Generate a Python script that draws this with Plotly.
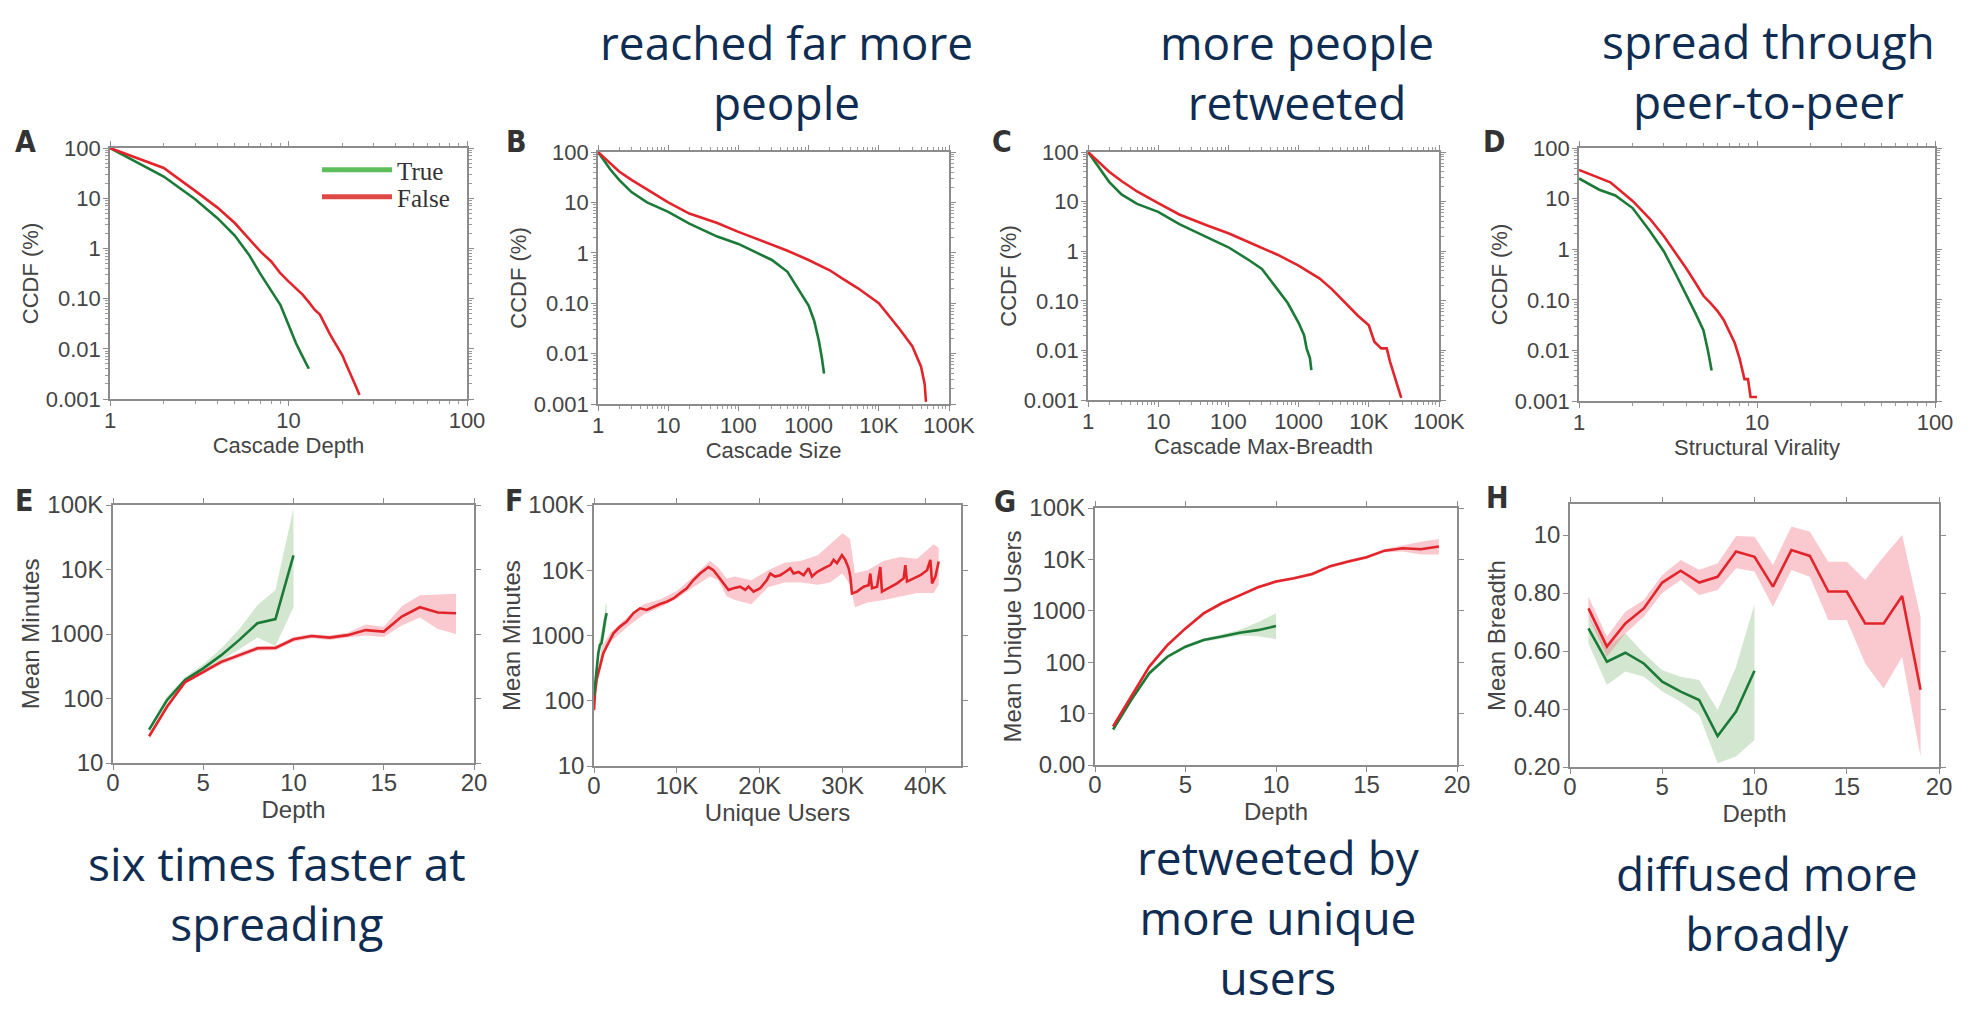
import plotly.graph_objects as go
from plotly.subplots import make_subplots

# the page body adds an 8px margin, so the figure starts 8px in from the window edge
OFF = 8
W, H = 1971 - OFF, 1010 - OFF
GREEN = "#1c7a38"
RED = "#e2252b"
GREEN_BAND = "rgba(130,185,120,0.35)"
RED_BAND = "rgba(240,120,135,0.4)"
NAVY = "#0f2d52"
GREY = "#444444"


def px_x(px):
    return (px - OFF) / W


def px_y(py):
    return 1 - (py - OFF) / H


# ---- A: CCDF vs cascade depth
a_true_x = [1, 2, 3, 4, 5, 6, 7, 8, 9, 10, 11, 12, 13]
a_true_y = [100, 27, 9.5, 4, 1.8, 0.75, 0.3, 0.14, 0.075, 0.03, 0.013, 0.007, 0.004]
a_false_x = [1, 2, 3, 4, 5, 6, 7, 8, 9, 10, 11, 12, 13, 14, 15, 16, 17, 18, 19, 20, 21, 22, 23, 24, 25]
a_false_y = [100, 40, 14, 6.5, 3.2, 1.6, 0.85, 0.55, 0.32, 0.22, 0.16, 0.12, 0.085, 0.06, 0.048,
             0.03, 0.02, 0.014, 0.01, 0.0075, 0.005, 0.0035, 0.0024, 0.0017, 0.0012]

# ---- B: CCDF vs cascade size
b_true_x = [1, 1.5, 2, 3, 5, 7, 10, 20, 30, 50, 100, 200, 300, 500, 700, 1000, 1200, 1400, 1550, 1660]
b_true_y = [100, 45, 28, 16, 10, 8, 6.5, 3.8, 2.9, 2.1, 1.5, 0.95, 0.72, 0.42, 0.2, 0.09, 0.045, 0.018, 0.008, 0.004]
b_false_x = [1, 1.5, 2, 3, 5, 10, 20, 50, 100, 200, 500, 1000, 2000, 3000, 5000, 10000, 15000,
             20000, 30000, 40000, 45000, 47000]
b_false_y = [100, 60, 41, 28, 18, 10, 6, 3.9, 2.6, 1.8, 1.1, 0.72, 0.45, 0.31, 0.2, 0.1, 0.05,
             0.03, 0.014, 0.0055, 0.0025, 0.0011]

# ---- C: CCDF vs cascade max-breadth
c_true_x = [1, 1.5, 2, 3, 5, 10, 20, 50, 100, 200, 300, 500, 700, 1000, 1200, 1300, 1450, 1520]
c_true_y = [100, 45, 25, 14, 9, 6.2, 3.5, 1.9, 1.2, 0.65, 0.44, 0.17, 0.09, 0.036, 0.02, 0.011, 0.007, 0.004]
c_false_x = [1, 1.5, 2, 3, 5, 10, 20, 50, 100, 200, 500, 1000, 2000, 3000, 5000, 7000, 10000,
             12000, 15000, 18000, 20000, 24000, 29000]
c_false_y = [100, 60, 40, 26, 16, 9.3, 5.5, 3.3, 2.3, 1.5, 0.85, 0.51, 0.28, 0.17, 0.08, 0.05,
             0.032, 0.015, 0.011, 0.011, 0.006, 0.0025, 0.0011]

# ---- D: CCDF vs structural virality
d_true_x = [1, 1.3, 1.6, 2.0, 2.5, 3.0, 3.5, 4.0, 4.5, 5.0, 5.3, 5.56]
d_true_y = [25, 15, 11.5, 6.5, 2.3, 0.9, 0.32, 0.13, 0.055, 0.025, 0.01, 0.004]
d_false_x = [1, 1.5, 2, 2.5, 3, 3.5, 4, 4.5, 5, 5.5, 6, 6.5, 7, 7.5, 8, 8.5, 8.9, 9.2, 10]
d_false_y = [37, 21, 9, 4, 1.8, 0.85, 0.42, 0.22, 0.12, 0.085, 0.06, 0.04, 0.023, 0.014, 0.0067,
             0.0027, 0.0027, 0.0012, 0.0012]

# ---- E: mean minutes vs depth
e_true_x = [2, 3, 4, 5, 6, 7, 8, 9, 10]
e_true_y = [33, 95, 195, 293, 470, 810, 1470, 1700, 16600]
e_true_hi = [36, 108, 215, 340, 600, 1200, 2800, 4800, 90000]
e_true_lo = [30, 85, 175, 255, 390, 580, 880, 650, 2600]
e_false_x = [2, 3, 4, 5, 6, 7, 8, 9, 10, 11, 12, 13, 14, 15, 16, 17, 18, 19]
e_false_y = [26, 75, 180, 260, 370, 470, 600, 610, 830, 930, 880, 960, 1150, 1090, 1870, 2600, 2150, 2100]
e_false_hi = [28, 82, 190, 280, 400, 510, 650, 660, 900, 1000, 950, 1050, 1400, 1300, 2700, 4000, 4100, 4200]
e_false_lo = [24, 68, 170, 240, 340, 430, 550, 560, 760, 860, 810, 880, 950, 900, 1350, 1800, 1200, 1000]

# ---- F: mean minutes vs unique users
f_true_x = [0, 120, 320, 520, 720, 900, 1000, 1130, 1330, 1530]
f_true_y = [120, 170, 330, 540, 720, 760, 900, 1200, 1700, 2200]
f_true_band_x = [0, 200, 400, 600, 800, 1000, 1200, 1400, 1530]
f_true_hi = [160, 280, 500, 800, 1000, 1300, 1900, 2900, 3200]
f_true_lo = [100, 160, 280, 450, 600, 700, 950, 1300, 1500]
f_false_x = [0, 120, 320, 730, 1130, 1730, 2340, 3140, 3950, 4750, 5560, 6360, 7170, 7980, 8780,
             9590, 10390, 11200, 12000, 12810, 13820, 14420, 15030, 15630, 16230, 16840, 17640,
             18250, 18650, 19260, 20060, 20870, 21270, 21870, 22480, 23080, 23690, 24090, 24690,
             25300, 25900, 26310, 26910, 27720, 28520, 28920, 29330, 29930, 30330, 30740, 30940,
             31140, 31740, 32550, 33150, 33350, 33560, 34160, 34560, 34760, 35570, 36580, 37380,
             37580, 37780, 38590, 39400, 40200, 40600, 40810, 41210, 41610]
f_false_y = [72, 130, 210, 355, 535, 760, 1080, 1370, 1630, 2190, 2610, 2460, 2750, 3040, 3290,
             3700, 4440, 5290, 7080, 8900, 11200, 10000, 7950, 6300, 5000, 5300, 5600,
             5000, 5600, 4700, 5300, 7100, 8900, 8000, 8400, 9400, 10700, 8900, 9400,
             8400, 10700, 8000, 9400, 10700, 12000, 14400, 12800, 17000, 14400, 10700, 8000,
             4400, 4700, 5600, 5900, 8900, 5300, 5600, 11200, 4700, 5300, 6300, 7500,
             12000, 6700, 7500, 8400, 10000, 14400, 6300, 8000, 13600]
f_false_band_x = [0, 500, 1000, 2000, 4000, 6000, 8000, 10000, 12000, 14000, 15000, 16000, 17000,
                  19000, 21000, 23000, 25000, 27000, 28500, 30000, 30900, 31500, 33000, 35000,
                  37000, 39000, 41000, 41610]
f_false_hi = [100, 330, 700, 1100, 1900, 3000, 3600, 4800, 8000, 14000, 11000, 7500, 8000, 7000,
              10000, 13000, 14000, 17000, 25000, 37000, 30000, 9000, 10000, 14000, 16000, 15000,
              25000, 22000]
f_false_lo = [60, 250, 480, 800, 1350, 2100, 2700, 3700, 5500, 8000, 7000, 4000, 3500, 3000,
              5500, 6500, 6500, 6000, 6500, 9000, 6000, 2700, 3200, 3500, 4000, 4500, 4500, 6000]

# ---- G: mean unique users vs depth
g_true_x = [1, 2, 3, 4, 5, 6, 7, 8, 9, 10]
g_true_y = [4.9, 18.4, 61, 128, 200, 270, 315, 375, 420, 505]
g_true_hi = [5.4, 20, 66, 138, 215, 290, 345, 430, 600, 900]
g_true_lo = [4.4, 16.8, 56, 118, 185, 250, 290, 330, 320, 280]
g_false_x = [1, 2, 3, 4, 5, 6, 7, 8, 9, 10, 11, 12, 13, 14, 15, 16, 17, 18, 19]
g_false_y = [5.6, 21, 82, 215, 455, 890, 1400, 2000, 2870, 3700, 4300, 5200, 7400, 9100, 11000,
             14800, 16500, 15800, 17800]
g_false_hi = [6.2, 23, 90, 235, 490, 950, 1500, 2150, 3050, 3950, 4600, 5600, 7900, 9800, 11800,
              16000, 19000, 22000, 25000]
g_false_lo = [5.0, 19, 75, 195, 420, 830, 1300, 1850, 2700, 3450, 4000, 4800, 6900, 8500, 10200,
              13700, 14200, 12500, 12500]

# ---- H: mean breadth vs depth
h_true_x = [1, 2, 3, 4, 5, 6, 7, 8, 9, 10]
h_true_y = [0.678, 0.563, 0.594, 0.557, 0.494, 0.46, 0.431, 0.307, 0.391, 0.532]
h_true_hi = [0.718, 0.615, 0.661, 0.592, 0.534, 0.511, 0.5, 0.397, 0.546, 0.762]
h_true_lo = [0.626, 0.483, 0.529, 0.511, 0.46, 0.425, 0.379, 0.213, 0.236, 0.293]
h_false_x = [1, 2, 3, 4, 5, 6, 7, 8, 9, 10, 11, 12, 13, 14, 15, 16, 17, 18, 19]
h_false_y = [0.747, 0.615, 0.695, 0.747, 0.836, 0.877, 0.836, 0.856, 0.943, 0.925, 0.822, 0.948,
             0.928, 0.805, 0.805, 0.695, 0.695, 0.79, 0.466]
h_false_hi = [0.787, 0.65, 0.735, 0.776, 0.862, 0.914, 0.88, 0.902, 0.997, 0.994, 0.897, 1.029,
              1.011, 0.908, 0.908, 0.845, 0.925, 1.0, 0.718]
h_false_lo = [0.718, 0.58, 0.66, 0.718, 0.80, 0.845, 0.793, 0.81, 0.885, 0.874, 0.753, 0.879,
              0.856, 0.707, 0.707, 0.557, 0.471, 0.58, 0.236]

fig = make_subplots(rows=2, cols=4)


def line(x, y, color, r, c):
    fig.add_trace(go.Scatter(x=x, y=y, mode="lines", line=dict(color=color, width=2.6),
                             showlegend=False, hoverinfo="skip"), row=r, col=c)


def band(x, hi, lo, color, r, c):
    fig.add_trace(go.Scatter(x=list(x) + list(x)[::-1], y=list(hi) + list(lo)[::-1],
                             mode="lines", line=dict(width=0), fill="toself", fillcolor=color,
                             showlegend=False, hoverinfo="skip"), row=r, col=c)


line(a_true_x, a_true_y, GREEN, 1, 1)
line(a_false_x, a_false_y, RED, 1, 1)
line(b_true_x, b_true_y, GREEN, 1, 2)
line(b_false_x, b_false_y, RED, 1, 2)
line(c_true_x, c_true_y, GREEN, 1, 3)
line(c_false_x, c_false_y, RED, 1, 3)
line(d_true_x, d_true_y, GREEN, 1, 4)
line(d_false_x, d_false_y, RED, 1, 4)

band(e_true_x, e_true_hi, e_true_lo, GREEN_BAND, 2, 1)
band(e_false_x, e_false_hi, e_false_lo, RED_BAND, 2, 1)
line(e_true_x, e_true_y, GREEN, 2, 1)
line(e_false_x, e_false_y, RED, 2, 1)

band(f_false_band_x, f_false_hi, f_false_lo, RED_BAND, 2, 2)
band(f_true_band_x, f_true_hi, f_true_lo, GREEN_BAND, 2, 2)
line(f_false_x, f_false_y, RED, 2, 2)
line(f_true_x, f_true_y, GREEN, 2, 2)

band(g_true_x, g_true_hi, g_true_lo, GREEN_BAND, 2, 3)
band(g_false_x, g_false_hi, g_false_lo, RED_BAND, 2, 3)
line(g_true_x, g_true_y, GREEN, 2, 3)
line(g_false_x, g_false_y, RED, 2, 3)

band(h_true_x, h_true_hi, h_true_lo, GREEN_BAND, 2, 4)
band(h_false_x, h_false_hi, h_false_lo, RED_BAND, 2, 4)
line(h_true_x, h_true_y, GREEN, 2, 4)
line(h_false_x, h_false_y, RED, 2, 4)

# legend entries (panel A), one legend box each so their spacing can be set
fig.add_trace(go.Scatter(x=[None], y=[None], mode="lines", name="True", legend="legend",
                         line=dict(color="#5cbf5c", width=5)), row=1, col=1)
fig.add_trace(go.Scatter(x=[None], y=[None], mode="lines", name="False", legend="legend2",
                         line=dict(color="#e04848", width=5)), row=1, col=1)

# panel frames in window pixels: left, right, top, bottom
frames = [(110, 467, 148, 399), (598, 949, 152, 404), (1088, 1439, 152, 400), (1579, 1935, 148, 401),
          (113, 474, 505, 763), (594, 961, 505, 766), (1095, 1457, 508, 765), (1570, 1939, 504, 767)]

tick_font_top = dict(family="Liberation Sans, Arial, sans-serif", size=22, color=GREY)
tick_font_bot = dict(family="Liberation Sans, Arial, sans-serif", size=24, color=GREY)

base = dict(showline=True, linecolor="#8c8c8c", linewidth=1.6, mirror="allticks",
            ticks="outside", ticklen=5, tickwidth=1.3, tickcolor="#8c8c8c",
            showgrid=False, zeroline=False, automargin=False)

ccdf_vals = [0.001, 0.01, 0.1, 1, 10, 100]
ccdf_text = ["0.001", "0.01", "0.10", "1", "10", "100"]
k_vals = [1, 10, 100, 1000, 10000, 100000]
k_text = ["1", "10", "100", "1000", "10K", "100K"]
minor_log = dict(ticks="outside", ticklen=3, tickcolor="#9a9a9a", dtick="D1", showgrid=False)

x_titles = ["Cascade Depth", "Cascade Size", "Cascade Max-Breadth", "Structural Virality",
            "Depth", "Unique Users", "Depth", "Depth"]
y_titles = ["CCDF (%)", "CCDF (%)", "CCDF (%)", "CCDF (%)",
            "Mean Minutes", "Mean Minutes", "Mean Unique Users", "Mean Breadth"]

for i, (l, r, t, b) in enumerate(frames):
    n = "" if i == 0 else str(i + 1)
    tf = tick_font_top if i < 4 else tick_font_bot
    xa = dict(base, domain=[px_x(l), px_x(r)], tickfont=tf, ticklabelstandoff=-4 if i < 4 else -8,
              title=dict(text=x_titles[i], font=tf, standoff=2))
    ya = dict(base, domain=[px_y(b), px_y(t)], tickfont=tf, ticklabelstandoff=-2,
              title=dict(text=y_titles[i], font=tf, standoff=1))
    if i in (0, 3):
        xa.update(type="log", range=[0, 2], tickvals=[1, 10, 100], ticktext=["1", "10", "100"], minor=minor_log)
    elif i in (1, 2):
        xa.update(type="log", range=[0, 5], tickvals=k_vals, ticktext=k_text, minor=minor_log)
    elif i == 5:
        xa.update(range=[0, 44300], tickvals=[0, 10000, 20000, 30000, 40000],
                  ticktext=["0", "10K", "20K", "30K", "40K"])
    else:
        xa.update(range=[0, 20], tickvals=[0, 5, 10, 15, 20])
    if i < 4:
        ya.update(type="log", range=[-3, 2], tickvals=ccdf_vals, ticktext=ccdf_text, minor=minor_log)
    elif i in (4, 5):
        ya.update(type="log", range=[1, 5], tickvals=[10, 100, 1000, 10000, 100000],
                  ticktext=["10", "100", "1000", "10K", "100K"])
    elif i == 6:
        ya.update(type="log", range=[0, 5], tickvals=k_vals,
                  ticktext=["0.00", "10", "100", "1000", "10K", "100K"])
    else:
        ya.update(range=[0.2, 1.107], tickvals=[0.2, 0.4, 0.6, 0.8, 1.0],
                  ticktext=["0.20", "0.40", "0.60", "0.80", "10"])
    fig.layout["xaxis" + n].update(xa)
    fig.layout["yaxis" + n].update(ya)

annotations = []
letters = [("A", 25, 141), ("B", 516, 141), ("C", 1002, 141), ("D", 1494, 141),
           ("E", 24, 500), ("F", 514, 500), ("G", 1005, 501), ("H", 1497, 497)]
for txt, px, py in letters:
    annotations.append(dict(text="<b>" + txt + "</b>", x=px_x(px), y=px_y(py), xref="paper", yref="paper",
                            showarrow=False, xanchor="center", yanchor="middle",
                            font=dict(family="Liberation Sans Narrow, DejaVu Sans Condensed, Arial", size=30,
                                      color="#333333")))

cap_font = dict(family="Open Sans, Noto Sans, sans-serif", size=46, color=NAVY)
captions = [("reached far more<br>people", 786, 72, "middle"),
            ("more people<br>retweeted", 1297, 72, "middle"),
            ("spread through<br>peer-to-peer", 1768, OFF, "top"),
            ("six times faster at<br>spreading", 277, 893, "middle"),
            ("retweeted by<br>more unique<br>users", 1278, 1010, "bottom"),
            ("diffused more<br>broadly", 1767, 903, "middle")]
for txt, px, py, anchor in captions:
    annotations.append(dict(text=txt, x=px_x(px), y=px_y(py), xref="paper", yref="paper",
                            showarrow=False, xanchor="center", yanchor=anchor, align="center",
                            font=cap_font))

leg_font = dict(family="Liberation Serif, Times New Roman, serif", size=25, color="#333333")
fig.update_layout(
    width=W, height=H,
    margin=dict(l=0, r=0, t=0, b=0, pad=0, autoexpand=False),
    paper_bgcolor="white", plot_bgcolor="white",
    annotations=annotations,
    showlegend=True,
    legend=dict(x=px_x(317), y=px_y(147), xanchor="left", yanchor="top",
                bgcolor="rgba(0,0,0,0)", itemwidth=70, font=leg_font),
    legend2=dict(x=px_x(317), y=px_y(174), xanchor="left", yanchor="top",
                 bgcolor="rgba(0,0,0,0)", itemwidth=70, font=leg_font),
)

fig.write_html("out.html")
